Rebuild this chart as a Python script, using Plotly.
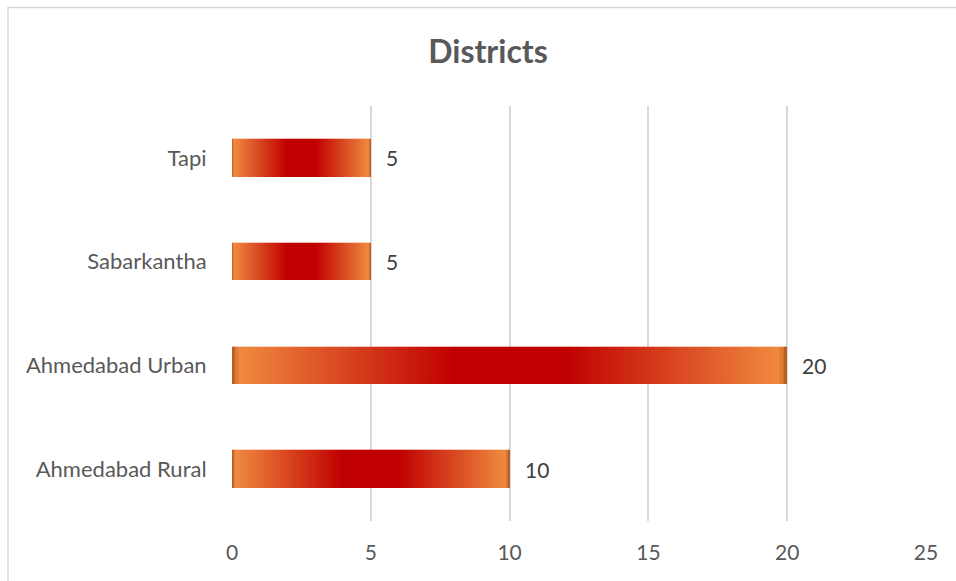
import plotly.graph_objects as go

categories = ["Ahmedabad Rural", "Ahmedabad Urban", "Sabarkantha", "Tapi"]
values = [10, 20, 5, 5]
x_ticks = [0, 5, 10, 15, 20, 25]

N_SEG = 160


def hex2rgb(h):
    h = h.lstrip("#")
    return tuple(int(h[i:i + 2], 16) for i in (0, 2, 4))


def lerp(c1, c2, t):
    a, b = hex2rgb(c1), hex2rgb(c2)
    return "rgb(%d,%d,%d)" % tuple(round(a[i] + (b[i] - a[i]) * t) for i in range(3))


def grad_color(t):
    # t in [0,1] across bar; symmetric gradient: dark edge -> orange -> red centre
    s = 1 - abs(2 * t - 1)
    e = 0.025
    if s < e:
        return lerp("#a8501a", "#f08a40", s / e)
    u = min(1.0, (s - e) / (0.8 - e))
    return lerp("#f08a40", "#c00000", u)


fig = go.Figure()
for k in range(N_SEG):
    t = (k + 0.5) / N_SEG
    fig.add_trace(go.Bar(
        y=categories,
        x=[v / N_SEG for v in values],
        orientation="h",
        width=0.363,
        marker=dict(color=grad_color(t), line=dict(width=0.3, color=grad_color(t))),
        showlegend=False,
        hoverinfo="skip",
    ))

for cat, v in zip(categories, values):
    fig.add_annotation(x=v, y=cat, text=str(v), showarrow=False,
                       xanchor="left", xshift=13,
                       font=dict(family="Lato", size=21, color="#404040"))

L, R, T, B = 232, 30, 106, 60
W, H = 956, 581
pw, ph = W - L - R, H - T - B

fig.add_shape(type="rect", xref="paper", yref="paper",
              x0=(8 - L) / pw, x1=(W + 10 - L) / pw,
              y0=-(B + 10) / ph, y1=1 + (T - 7.5) / ph,
              line=dict(color="#d9d9d9", width=1.5), fillcolor="rgba(0,0,0,0)",
              layer="below")

fig.update_layout(
    width=W, height=H,
    margin=dict(l=L, r=R, t=T, b=B),
    barmode="stack",
    bargap=0,
    plot_bgcolor="white",
    paper_bgcolor="white",
    title=dict(text="<b>Districts</b>", x=488 / W, xanchor="center",
               y=1 - 52 / H, yanchor="middle", xref="container", yref="container",
               font=dict(family="Lato", size=32, color="#595959")),
    font=dict(family="Lato", size=21, color="#595959"),
    xaxis=dict(range=[0, 25], tickvals=x_ticks, showgrid=True, gridcolor="#d9d9d9",
               gridwidth=1.5, zeroline=False, showline=False,
               ticks="outside", ticklen=13, tickcolor="rgba(0,0,0,0)",
               tickfont=dict(family="Lato", size=21, color="#595959"), fixedrange=True),
    yaxis=dict(categoryorder="array", categoryarray=categories, showgrid=False,
               zeroline=False, showline=False, ticks="outside", ticklen=20,
               tickcolor="rgba(0,0,0,0)",
               tickfont=dict(family="Lato", size=22, color="#595959"), fixedrange=True),
)

fig.write_html("out.html")
